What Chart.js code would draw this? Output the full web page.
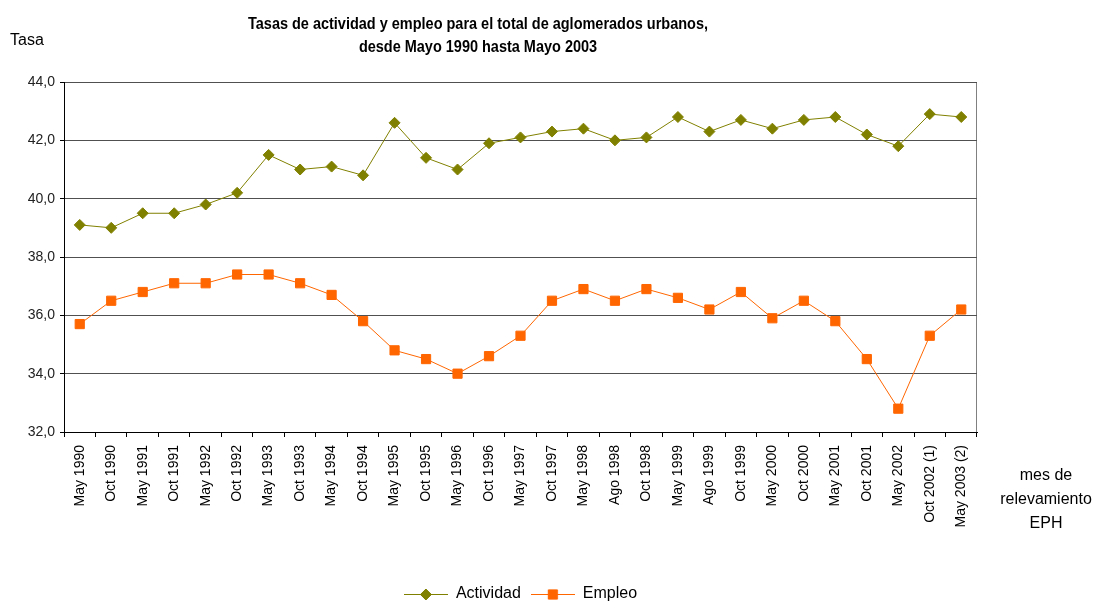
<!DOCTYPE html>
<html>
<head>
<meta charset="utf-8">
<script src="https://cdn.jsdelivr.net/npm/chart.js@4.4.1/dist/chart.umd.min.js"></script>
<style>
  html, body { margin: 0; background: #fff; }
  canvas { display: block; }
</style>
</head>
<body>
<canvas id="chart" width="1100" height="604"></canvas>
<script>
const MONTHS = [
  "May 1990", "Oct 1990", "May 1991", "Oct 1991", "May 1992", "Oct 1992",
  "May 1993", "Oct 1993", "May 1994", "Oct 1994", "May 1995", "Oct 1995",
  "May 1996", "Oct 1996", "May 1997", "Oct 1997", "May 1998", "Ago 1998",
  "Oct 1998", "May 1999", "Ago 1999", "Oct 1999", "May 2000", "Oct 2000",
  "May 2001", "Oct 2001", "May 2002", "Oct 2002 (1)", "May 2003 (2)"
];
const ACTIVIDAD = [
  39.1, 39.0, 39.5, 39.5, 39.8, 40.2, 41.5, 41.0, 41.1, 40.8, 42.6, 41.4,
  41.0, 41.9, 42.1, 42.3, 42.4, 42.0, 42.1, 42.8, 42.3, 42.7, 42.4, 42.7,
  42.8, 42.2, 41.8, 42.9, 42.8
];
const EMPLEO = [
  35.7, 36.5, 36.8, 37.1, 37.1, 37.4, 37.4, 37.1, 36.7, 35.8, 34.8, 34.5,
  34.0, 34.6, 35.3, 36.5, 36.9, 36.5, 36.9, 36.6, 36.2, 36.8, 35.9, 36.5,
  35.8, 34.5, 32.8, 35.3, 36.2
];
const Y_MIN = 32, Y_MAX = 44, Y_STEP = 2;
const TITLE_LINES = [
  "Tasas de actividad y empleo para el total de aglomerados urbanos,",
  "desde Mayo 1990 hasta Mayo 2003"
];
const Y_TITLE = "Tasa";
const X_TITLE_LINES = ["mes de", "relevamiento", "EPH"];

const FONT = '"Liberation Sans", Arial, sans-serif';
const OLIVE = "#808000";
const ORANGE = "#ff6600";

Chart.defaults.font.family = FONT;
Chart.defaults.color = "#000";

// small line + marker swatch for the legend
function legendSwatch(color, style, radius) {
  const c = document.createElement("canvas");
  c.width = 44; c.height = 16;
  const g = c.getContext("2d");
  g.strokeStyle = color;
  g.fillStyle = color;
  g.lineWidth = 1;
  g.beginPath(); g.moveTo(0, 8.5); g.lineTo(44, 8.5); g.stroke();
  Chart.helpers.drawPoint(g, { pointStyle: style, radius, rotation: 0, borderWidth: 1 }, 22, 8.5);
  return c;
}

const texts = {
  id: "texts",
  afterDraw(chart) {
    const ctx = chart.ctx;
    ctx.save();
    ctx.fillStyle = "#000";
    ctx.textBaseline = "middle";
    ctx.textAlign = "center";
    ctx.font = "bold 16px " + FONT;
    const sx = 460 / ctx.measureText(TITLE_LINES[0]).width;
    TITLE_LINES.forEach((t, i) => {
      ctx.save();
      ctx.translate(478, 25 + i * 23);
      ctx.scale(sx, 1);
      ctx.fillText(t, 0, 0);
      ctx.restore();
    });
    ctx.font = "16px " + FONT;
    ctx.textAlign = "left";
    ctx.fillText(Y_TITLE, 10, 41);
    ctx.textAlign = "center";
    X_TITLE_LINES.forEach((t, i) => ctx.fillText(t, 1046, 476 + i * 24));
    ctx.restore();
  }
};

new Chart(document.getElementById("chart"), {
  type: "line",
  data: {
    labels: MONTHS,
    datasets: [
      {
        label: "Actividad",
        data: ACTIVIDAD,
        borderColor: OLIVE,
        backgroundColor: OLIVE,
        borderWidth: 1,
        pointStyle: "rectRot",
        pointRadius: 5.5,
        pointBorderWidth: 1,
        tension: 0
      },
      {
        label: "Empleo",
        data: EMPLEO,
        borderColor: ORANGE,
        backgroundColor: ORANGE,
        borderWidth: 1,
        pointStyle: "rect",
        pointRadius: 6.5,
        pointBorderWidth: 1,
        tension: 0
      }
    ]
  },
  options: {
    responsive: false,
    animation: false,
    layout: { padding: { top: 82, right: 123, bottom: -8, left: 0 } },
    scales: {
      x: {
        offset: true,
        afterFit: s => { s.height = 144; },
        grid: {
          offset: true,
          drawOnChartArea: true,
          // only the closing line on the right edge is visible
          color: c => c.tick ? "rgba(0,0,0,0)" : "#808080",
          tickColor: "#000",
          tickLength: 5
        },
        border: { color: "#000", width: 1 },
        ticks: {
          autoSkip: false,
          minRotation: 90,
          maxRotation: 90,
          padding: 8,
          color: "#000",
          font: { size: 14 }
        }
      },
      y: {
        min: Y_MIN,
        max: Y_MAX,
        afterFit: s => { s.width = 64; },
        grid: { color: "#505050", tickColor: "#000", tickLength: 4 },
        border: { color: "#000", width: 1 },
        ticks: {
          stepSize: Y_STEP,
          padding: 5,
          color: "#222",
          font: { size: 14 },
          callback: v => v.toFixed(1).replace(".", ",")
        }
      }
    },
    plugins: {
      title: { display: false },
      tooltip: { enabled: false },
      legend: {
        position: "bottom",
        fullSize: false,
        labels: {
          usePointStyle: true,
          pointStyleWidth: 44,
          padding: 10,
          color: "#000",
          font: { size: 16 },
          generateLabels: chart => chart.data.datasets.map((ds, i) => ({
            text: ds.label,
            datasetIndex: i,
            fontColor: "#000",
            pointStyle: legendSwatch(ds.borderColor, ds.pointStyle, ds.pointRadius),
            lineWidth: 0
          }))
        }
      }
    }
  },
  plugins: [texts]
});
</script>
</body>
</html>
